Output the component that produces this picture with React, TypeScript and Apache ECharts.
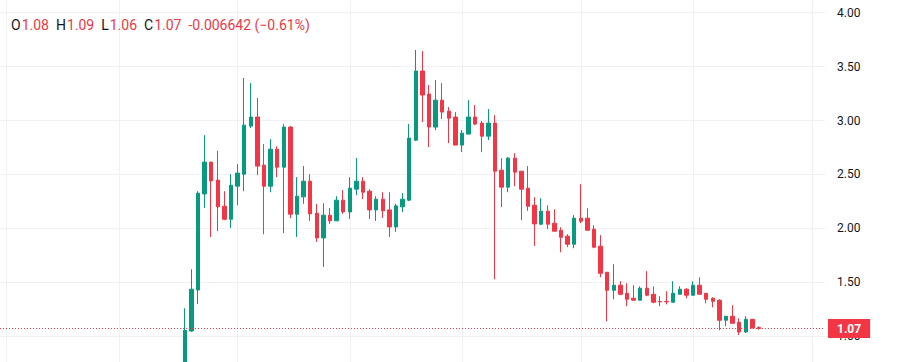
import React, { useEffect, useRef } from "react";
import * as echarts from "echarts";

// OHLC values (88 candles)
const OPEN = [
  0.62, 1.047, 1.428, 2.319, 2.614, 2.447, 2.205, 2.084, 2.391, 2.502,
  2.948, 3.032, 2.586, 2.391, 2.734, 2.567, 2.939, 2.131, 2.292, 2.437,
  2.14, 1.911, 2.122, 2.069, 2.261, 2.152, 2.363, 2.437, 2.344, 2.171,
  2.27, 2.171, 2.013, 2.199, 2.261, 2.818, 3.459, 3.245, 2.939, 3.189,
  3.087, 3.032, 2.772, 2.874, 3.032, 2.976, 2.855, 2.976, 2.539, 2.382,
  2.651, 2.53, 2.372, 2.214, 2.038, 2.159, 2.047, 1.982, 1.927, 1.852,
  2.094, 2.094, 1.992, 1.834, 1.592, 1.425, 1.472, 1.397, 1.351, 1.333,
  1.444, 1.388, 1.322, 1.322, 1.314, 1.388, 1.435, 1.379, 1.472, 1.397,
  1.351, 1.333, 1.147, 1.184, 1.128, 1.038, 1.156, 1.08,
];
const CLOSE = [
  1.054, 1.435, 2.326, 2.614, 2.44, 2.199, 2.084, 2.4, 2.512, 2.957,
  3.032, 2.577, 2.391, 2.734, 2.567, 2.939, 2.131, 2.298, 2.437, 2.134,
  1.911, 2.122, 2.069, 2.261, 2.152, 2.372, 2.437, 2.335, 2.171, 2.27,
  2.162, 2.013, 2.208, 2.27, 2.837, 3.459, 3.236, 2.939, 3.189, 3.078,
  3.022, 2.772, 2.883, 3.032, 2.967, 2.855, 2.976, 2.53, 2.382, 2.651,
  2.521, 2.363, 2.205, 2.041, 2.159, 2.038, 1.973, 1.917, 1.852, 2.094,
  2.066, 1.982, 1.825, 1.583, 1.425, 1.472, 1.388, 1.342, 1.333, 1.444,
  1.379, 1.314, 1.318, 1.318, 1.397, 1.435, 1.379, 1.472, 1.388, 1.342,
  1.323, 1.147, 1.184, 1.119, 1.038, 1.156, 1.075, 1.07,
];
const LOW = [
  0.6, 1.04, 1.298, 2.189, 1.92, 1.973, 2.075, 2.004, 2.214, 2.344,
  2.93, 2.493, 1.945, 2.335, 2.474, 1.955, 2.094, 1.92, 2.227, 2.069,
  1.874, 1.642, 2.041, 2.069, 2.134, 2.087, 2.307, 2.27, 2.087, 2.069,
  2.097, 1.92, 1.967, 2.152, 2.252, 2.809, 2.985, 2.753, 2.911, 3.013,
  2.79, 2.772, 2.707, 2.874, 2.957, 2.707, 2.818, 1.527, 2.196, 2.335,
  2.391, 2.075, 2.162, 1.837, 2.029, 1.992, 1.973, 1.778, 1.825, 1.815,
  2.047, 1.982, 1.815, 1.546, 1.137, 1.342, 1.379, 1.277, 1.333, 1.333,
  1.37, 1.305, 1.277, 1.295, 1.314, 1.388, 1.351, 1.379, 1.388, 1.305,
  1.267, 1.054, 1.091, 1.119, 1.01, 1.029, 1.075, 1.06,
];
const HIGH = [
  1.258, 1.62, 2.344, 2.864, 2.614, 2.719, 2.344, 2.502, 2.595, 3.394,
  3.347, 3.208, 2.781, 2.827, 2.762, 2.967, 2.948, 2.474, 2.577, 2.502,
  2.227, 2.233, 2.189, 2.298, 2.354, 2.474, 2.651, 2.474, 2.363, 2.298,
  2.335, 2.335, 2.227, 2.326, 2.967, 3.654, 3.644, 3.329, 3.375, 3.347,
  3.124, 3.078, 2.911, 3.189, 3.143, 2.995, 3.106, 3.05, 2.651, 2.66,
  2.697, 2.53, 2.577, 2.289, 2.279, 2.214, 2.177, 2.01, 1.945, 2.122,
  2.409, 2.186, 2.029, 1.936, 1.592, 1.667, 1.509, 1.49, 1.472, 1.462,
  1.602, 1.462, 1.37, 1.416, 1.509, 1.462, 1.444, 1.509, 1.546, 1.397,
  1.36, 1.342, 1.184, 1.286, 1.165, 1.184, 1.156, 1.09,
];

// Legend values for the last bar
const LAST_OPEN = 1.08;
const LAST_HIGH = 1.09;
const LAST_LOW = 1.06;
const LAST_CLOSE = 1.07;
const LAST_CHANGE = "-0.006642";
const LAST_CHANGE_PCT = "(\u22120.61%)";

// Time slots: empty slots before/after the candles; vertical grid slots
const FIRST_SLOT = 28;
const SLOT_COUNT = 126;
const GRID_SLOTS = [1, 18, 36, 53, 70, 88, 105, 123];

const UP = "#089981";
const DOWN = "#F23645";
const GRID = "#eff1f5";
const TEXT = "#131722";
const FONT = "Roboto, 'Noto Sans', sans-serif";

export default function App() {
  const ref = useRef<HTMLDivElement>(null);
  useEffect(() => {
    document.documentElement.style.overflow = "hidden";
    document.body.style.overflow = "hidden";
    const chart = echarts.init(ref.current!, undefined, { renderer: "svg" });
    const slots = Array.from({ length: SLOT_COUNT }, (_, i) => String(i));
    const data = OPEN.map((o, i) => [FIRST_SLOT + i, o, CLOSE[i], LOW[i], HIGH[i]]);
    const f = (v: number) => v.toFixed(2);
    const legendFont = { fontSize: 14, fontWeight: "normal", fontFamily: FONT, lineHeight: 17 };
    chart.setOption({
      animation: false,
      backgroundColor: "#ffffff",
      title: {
        left: 11,
        top: 16.5,
        padding: 0,
        text:
          `{k|O}{v|${f(LAST_OPEN)}}{k|H}{v|${f(LAST_HIGH)}}{k|L}{v|${f(LAST_LOW)}}` +
          `{k|C}{v|${f(LAST_CLOSE)}}{c|${LAST_CHANGE} ${LAST_CHANGE_PCT}}`,
        textStyle: {
          ...legendFont,
          rich: {
            k: { color: TEXT, ...legendFont },
            v: { color: DOWN, ...legendFont, padding: [0, 7, 0, 1] },
            c: { color: DOWN, ...legendFont },
          },
        },
      },
      grid: { left: 0, right: 77, top: 0, bottom: 0 },
      xAxis: {
        type: "category",
        data: slots,
        boundaryGap: false,
        axisLine: { show: false },
        axisTick: { show: false },
        axisLabel: { show: false },
        splitLine: {
          show: true,
          interval: (index: number) => GRID_SLOTS.includes(index),
          lineStyle: { color: GRID, width: 1 },
        },
      },
      yAxis: {
        type: "value",
        position: "right",
        min: 0.5,
        max: 4.118,
        interval: 0.5,
        axisLine: { show: false },
        axisTick: { show: false },
        axisLabel: {
          margin: 12,
          color: TEXT,
          fontSize: 12,
          fontFamily: FONT,
          showMaxLabel: false,
          showMinLabel: false,
          formatter: (v: number) => v.toFixed(2),
        },
        splitLine: { show: true, showMaxLine: false, lineStyle: { color: GRID, width: 1 } },
      },
      series: [
        {
          type: "candlestick",
          data,
          encode: { x: 0, y: [1, 2, 3, 4] },
          barWidth: 3.8,
          itemStyle: {
            color: UP,
            color0: DOWN,
            borderColor: UP,
            borderColor0: DOWN,
            borderWidth: 1,
          },
          markLine: {
            silent: true,
            symbol: ["none", "none"],
            lineStyle: { color: DOWN, type: [1, 2], width: 1 },
            label: {
              show: true,
              position: "end",
              distance: 3,
              formatter: f(LAST_CLOSE),
              backgroundColor: DOWN,
              color: "#ffffff",
              fontSize: 12,
              fontFamily: FONT,
              fontWeight: "bold",
              lineHeight: 14,
              padding: [3, 9, 2, 9],
            },
            data: [{ yAxis: LAST_CLOSE }],
          },
        },
      ],
    });
    return () => chart.dispose();
  }, []);
  return (
    <div
      ref={ref}
      style={{ position: "absolute", left: 0, top: 0, width: 902, height: 389.65, background: "#fff" }}
    />
  );
}
